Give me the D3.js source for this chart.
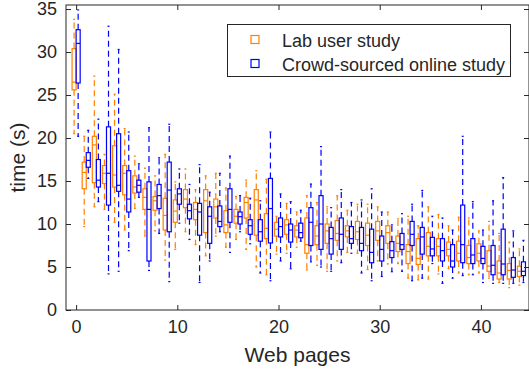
<!DOCTYPE html>
<html>
<head>
<meta charset="utf-8">
<script src="https://cdn.jsdelivr.net/npm/d3@7"></script>
<style>
  html, body { margin: 0; padding: 0; background: #fff; }
  svg { display: block; }
  text { font-family: "Liberation Sans", Arial, Helvetica, sans-serif; fill: #262626; }
</style>
</head>
<body>
<svg id="chart" width="529" height="372"></svg>
<script>
// ---------- data ----------
const pages = d3.range(0, 45);
const xTicks = [0, 10, 20, 30, 40];
const yTicks = [0, 5, 10, 15, 20, 25, 30, 35];
const seriesNames = ["Lab user study", "Crowd-sourced online study"];
const seriesColors = ["#FF8000", "#0000FF"];

// Lab user study (orange)
const labHigh = [33.8,20.2,27.2,18.1,25.1,21.1,17.9,16.5,15.6,18.1,14.9,16.4,14.0,15.6,15.9,14.2,13.2,15.1,16.2,15.2,10.9,12.4,11.4,13.3,12.5,12.0,13.3,11.6,12.3,12.3,12.0,11.4,10.6,10.9,9.8,12.0,11.1,9.8,10.8,10.7,9.2,10.3,8.9,7.9,7.1];
const labQ3   = [30.4,17.2,20.2,16.8,19.1,16.8,15.6,14.1,13.2,13.0,12.8,14.0,12.5,14.0,12.9,11.55,11.7,13.1,14.0,11.2,10.2,10.5,9.8,10.7,9.8,10.0,10.4,9.8,10.3,10.1,10.3,9.8,8.6,7.6,8.3,9.0,8.3,7.9,8.0,7.5,7.7,6.9,5.7,5.4,5.1];
const labMed  = [26.5,16.0,19.2,15.9,15.7,15.9,14.3,13.1,12.7,11.0,11.5,12.9,11.7,12.7,12.0,9.9,10.9,12.5,12.8,9.5,9.4,9.9,9.3,7.6,8.6,9.2,8.9,9.2,9.1,8.7,9.2,9.0,7.75,6.8,6.0,7.4,7.4,7.05,6.6,6.1,6.6,5.1,4.3,4.6,4.5];
const labQ1   = [25.6,14.1,14.8,14.7,14.3,13.4,13.6,11.7,11.6,9.3,10.2,11.9,10.5,9.0,10.7,9.0,10.1,10.7,8.7,8.3,8.6,8.8,8.5,6.6,7.6,7.75,8.1,8.5,8.2,7.5,8.1,7.75,6.8,5.4,5.3,6.3,6.3,6.3,5.7,5.4,5.7,4.5,3.6,3.6,3.9];
const labLow  = [20.5,9.7,12.0,11.7,10.2,9.3,11.8,8.6,9.2,5.8,7.05,9.1,7.6,6.3,8.6,7.3,8.2,7.05,5.0,4.1,6.5,6.6,7.3,4.65,5.2,4.5,5.7,6.7,6.6,4.7,5.7,5.35,5.4,3.7,3.5,3.6,4.2,4.8,4.3,4.1,4.3,3.7,3.2,2.6,2.9];

// Crowd-sourced online study (blue)
const crowdHigh = [34.9,20.9,22.2,33.0,30.3,20.7,17.0,21.2,17.7,21.6,16.4,14.6,16.9,13.7,15.9,17.9,13.3,13.0,12.7,20.7,13.5,12.6,11.6,14.65,19.0,11.9,14.0,12.5,12.8,14.1,11.4,9.9,11.2,12.3,13.9,10.9,10.7,9.3,20.2,12.6,9.3,12.7,15.4,9.2,8.1];
const crowdQ3   = [32.6,18.3,17.5,21.3,20.5,16.2,15.1,14.9,14.6,17.2,14.1,12.3,12.4,12.0,12.1,14.1,11.4,10.5,10.5,15.3,10.7,10.0,10.1,11.9,13.3,9.6,10.7,9.7,9.6,9.4,8.6,7.95,8.9,10.3,9.6,8.45,8.3,7.6,12.2,8.3,7.4,7.5,9.4,6.1,5.6];
const crowdMed  = [31.0,17.4,15.1,15.9,14.5,12.9,14.5,11.7,13.3,13.95,13.5,11.55,11.4,10.9,10.3,11.7,10.85,9.8,9.1,11.8,9.7,9.3,9.0,10.2,10.0,8.3,8.8,8.3,7.75,6.7,7.05,6.9,7.6,8.8,8.5,7.1,6.9,5.7,7.6,6.4,6.0,5.2,5.35,4.65,4.5];
const crowdQ1   = [26.4,16.6,14.3,12.2,13.8,11.4,13.7,5.7,11.8,9.1,12.3,10.6,8.7,7.75,9.7,10.2,10.0,8.8,8.0,7.8,8.5,7.9,8.4,7.5,7.05,6.5,7.05,7.75,6.9,5.5,5.7,6.1,7.05,7.5,6.5,6.3,5.7,5.0,5.5,5.4,5.4,4.1,4.1,3.8,4.0];
const crowdLow  = [20.2,15.3,12.6,4.2,4.5,6.9,13.1,4.6,8.9,3.3,10.1,8.2,3.2,5.7,9.1,6.7,9.1,7.7,4.3,3.4,5.7,4.8,8.0,5.6,5.0,4.5,5.5,6.6,4.3,3.4,3.9,4.45,4.5,3.4,3.7,5.4,3.1,3.7,4.0,4.1,3.2,3.1,3.1,3.1,3.2];

const series = [
  { name: seriesNames[0], color: seriesColors[0], offset: -0.2, high: labHigh, q3: labQ3, med: labMed, q1: labQ1, low: labLow },
  { name: seriesNames[1], color: seriesColors[1], offset: 0.2, high: crowdHigh, q3: crowdQ3, med: crowdMed, q1: crowdQ1, low: crowdLow }
];

// ---------- layout ----------
const svg = d3.select("#chart");
const mLeft = 66, mRight = 529, mTop = 5, mBottom = 310;
const x = d3.scaleLinear().domain([-1, 44.75]).range([mLeft, mRight]);
const y = d3.scaleLinear().domain([0, 35.47]).range([mBottom, mTop]);
const halfBox = 0.2;   // in data units
const capHalf = 0.1;

svg.append("defs").append("clipPath").attr("id", "clip")
  .append("rect").attr("x", mLeft).attr("y", mTop).attr("width", mRight - mLeft).attr("height", mBottom - mTop);

const plot = svg.append("g").attr("clip-path", "url(#clip)");

series.forEach(s => {
  const g = plot.append("g").attr("stroke", s.color).attr("fill", "none");
  pages.forEach((p, i) => {
    const cx = p + s.offset;
    g.append("line").attr("x1", x(cx)).attr("x2", x(cx)).attr("y1", y(s.q3[i])).attr("y2", y(s.high[i]))
      .attr("stroke-width", 1.2).attr("stroke-dasharray", "6,4");
    g.append("line").attr("x1", x(cx)).attr("x2", x(cx)).attr("y1", y(s.q1[i])).attr("y2", y(s.low[i]))
      .attr("stroke-width", 1.2).attr("stroke-dasharray", "6,4");
    g.append("line").attr("x1", x(cx - capHalf)).attr("x2", x(cx + capHalf)).attr("y1", y(s.high[i])).attr("y2", y(s.high[i])).attr("stroke-width", 1.2);
    g.append("line").attr("x1", x(cx - capHalf)).attr("x2", x(cx + capHalf)).attr("y1", y(s.low[i])).attr("y2", y(s.low[i])).attr("stroke-width", 1.2);
    g.append("rect").attr("x", x(cx - halfBox)).attr("width", x(cx + halfBox) - x(cx - halfBox))
      .attr("y", y(s.q3[i])).attr("height", y(s.q1[i]) - y(s.q3[i])).attr("stroke-width", 1.2);
    g.append("line").attr("x1", x(cx - halfBox)).attr("x2", x(cx + halfBox)).attr("y1", y(s.med[i])).attr("y2", y(s.med[i])).attr("stroke-width", 1.2);
  });
});

// ---------- axes ----------
const axisColor = "#262626";
const tickFont = 18;
const xAxisB = d3.axisBottom(x).tickValues(xTicks).tickSizeInner(-5).tickSizeOuter(0).tickPadding(10);
const xAxisT = d3.axisTop(x).tickValues(xTicks).tickSizeInner(-5).tickSizeOuter(0).tickFormat("");
const yAxisL = d3.axisLeft(y).tickValues(yTicks).tickSizeInner(-5).tickSizeOuter(0).tickPadding(9);
const yAxisR = d3.axisRight(y).tickValues(yTicks).tickSizeInner(-5).tickSizeOuter(0).tickFormat("");

function styleAxis(g) {
  g.selectAll("path.domain").remove();
  g.selectAll("line").attr("stroke", axisColor).attr("stroke-width", 1);
  g.selectAll("text").attr("font-size", tickFont).attr("fill", axisColor).attr("font-family", "Liberation Sans, Arial, sans-serif");
}
svg.append("g").attr("transform", `translate(0,${mBottom})`).call(xAxisB).call(styleAxis);
svg.append("g").attr("transform", `translate(0,${mTop})`).call(xAxisT).call(styleAxis);
svg.append("g").attr("transform", `translate(${mLeft},0)`).call(yAxisL).call(styleAxis);
svg.append("g").attr("transform", `translate(${mRight},0)`).call(yAxisR).call(styleAxis);

svg.append("rect").attr("x", mLeft).attr("y", mTop).attr("width", mRight - mLeft).attr("height", mBottom - mTop)
  .attr("fill", "none").attr("stroke", axisColor).attr("stroke-width", 1);

svg.append("text").attr("x", (mLeft + mRight) / 2).attr("y", 362).attr("text-anchor", "middle")
  .attr("font-size", 21).text("Web pages");
svg.append("text").attr("transform", `translate(25,${(mTop + mBottom) / 2}) rotate(-90)`).attr("text-anchor", "middle")
  .attr("font-size", 21).text("time (s)");

// ---------- legend ----------
const leg = svg.append("g");
leg.append("rect").attr("x", 227.5).attr("y", 24.5).attr("width", 283).attr("height", 52)
  .attr("fill", "#fff").attr("stroke", "#262626").attr("stroke-width", 1);
series.forEach((s, i) => {
  const cy = 39.5 + i * 24;
  leg.append("rect").attr("x", 251).attr("y", cy - 4).attr("width", 8).attr("height", 8)
    .attr("fill", "none").attr("stroke", s.color).attr("stroke-width", 1.2);
  leg.append("text").attr("x", 282).attr("y", cy + 7).attr("font-size", 18).text(s.name);
});
</script>
</body>
</html>
